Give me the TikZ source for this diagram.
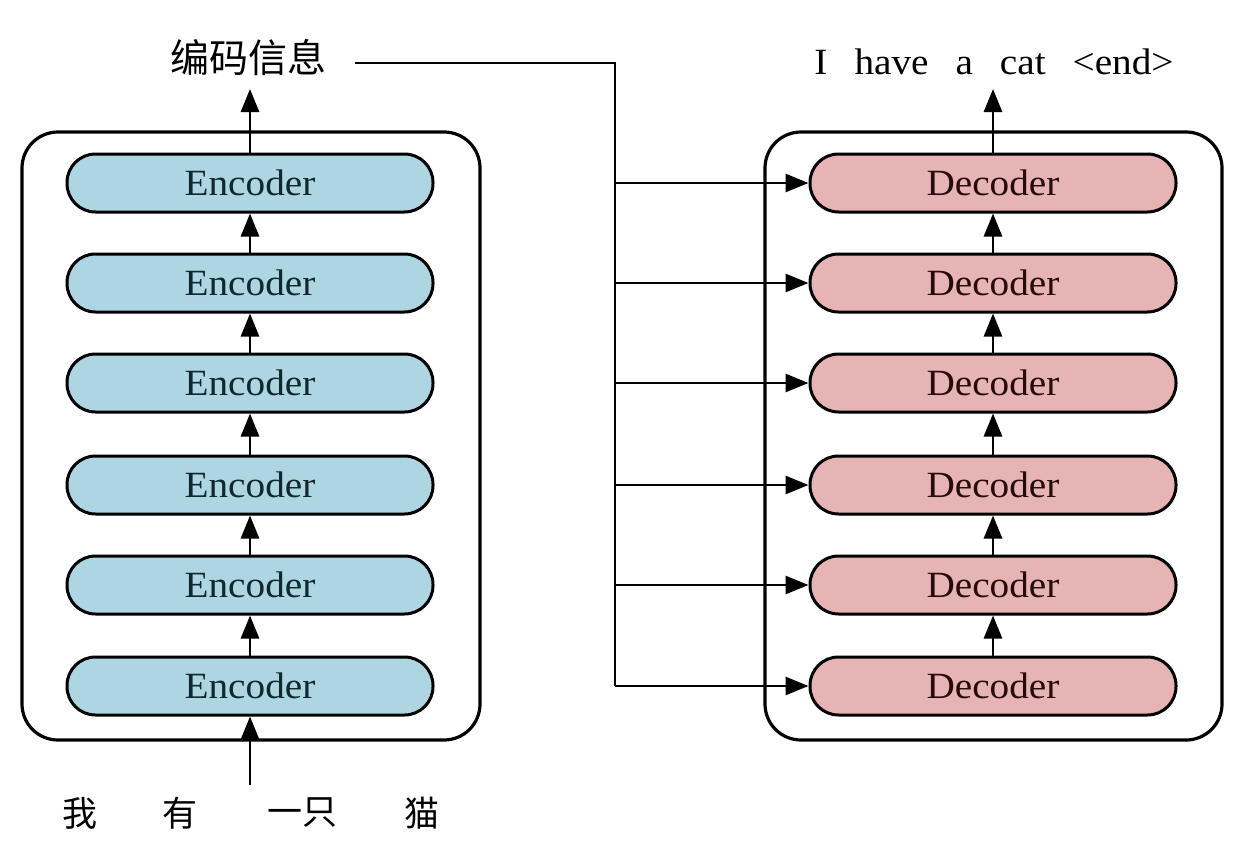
\documentclass[tikz,border=0pt]{standalone}
\usepackage{fontspec}
\setmainfont[FakeStretch=1.06]{Liberation Serif}
\newfontfamily\cjk{Noto Sans CJK SC}
\usetikzlibrary{arrows.meta}
\definecolor{encfill}{RGB}{174,214,226}
\definecolor{decfill}{RGB}{230,180,180}
\definecolor{enctext}{RGB}{15,40,48}
\definecolor{dectext}{RGB}{40,10,10}
\tikzset{
  outerbox/.style={draw=black, line width=3.2pt, rounded corners=36pt},
  pill/.style={draw=black, line width=3pt, rounded corners=28.5pt, minimum width=366pt, minimum height=58pt, inner sep=0pt, font=\fontsize{37}{40}\selectfont},
  encpill/.style={pill, fill=encfill, text=enctext},
  decpill/.style={pill, fill=decfill, text=dectext},
  conn/.style={line width=2.8pt, -{Triangle[length=23pt,width=18pt]}},
  plain/.style={line width=2.8pt},
  cjklabel/.style={font=\cjk\fontsize{39}{42}\selectfont, inner sep=0pt},
  cjkword/.style={font=\cjk\fontsize{35}{38}\selectfont, inner sep=0pt},
}
\begin{document}
\begin{tikzpicture}[x=1pt,y=-1pt]
\useasboundingbox (0,0) rectangle (1237,851);
% outer boxes
\draw[outerbox] (22,132) rectangle (480,740);
\draw[outerbox] (765,132) rectangle (1222,740);
% encoders and decoders
\foreach \i/\y in {1/686,2/585,3/485,4/383,5/283,6/183}{
  \node[encpill] (e\i) at (250,\y) {Encoder};
  \node[decpill] (d\i) at (993,\y) {Decoder};
}
\foreach \a/\b in {1/2,2/3,3/4,4/5,5/6}{
  \draw[conn] (e\a.north) -- (e\b.south);
  \draw[conn] (d\a.north) -- (d\b.south);
}
% labels
\node[cjklabel] (info) at (248,58) {编码信息};
\node[font=\fontsize{37}{40}\selectfont, inner sep=0pt] (out) at (994,62) {I\hspace{27pt}have\hspace{27pt}a\hspace{27pt}cat\hspace{27pt}<end>};
\coordinate (outb) at (993,89);
\coordinate (infob) at (250,89);
\draw[conn] (e6.north) -- (infob);
\draw[conn] (d6.north) -- (outb);
% input
\node[cjkword] (w1) at (80,813) {我};
\node[cjkword] (w2) at (180,813) {有};
\node[cjkword] (w3) at (302,813) {一只};
\node[cjkword] (w4) at (422,813) {猫};
\coordinate (inb) at (250,785);
\draw[conn] (inb) -- (e1.south);
% bus
\coordinate (bs) at (355,63);
\coordinate (bt) at (615,63);
\coordinate (bb) at (615,686);
\draw[plain] (bs) -- (bt) -- (bb);
\foreach \i in {1,...,6}{
  \draw[conn] (d\i.west -| bt) -- (d\i.west);
}
\end{tikzpicture}
\end{document}
